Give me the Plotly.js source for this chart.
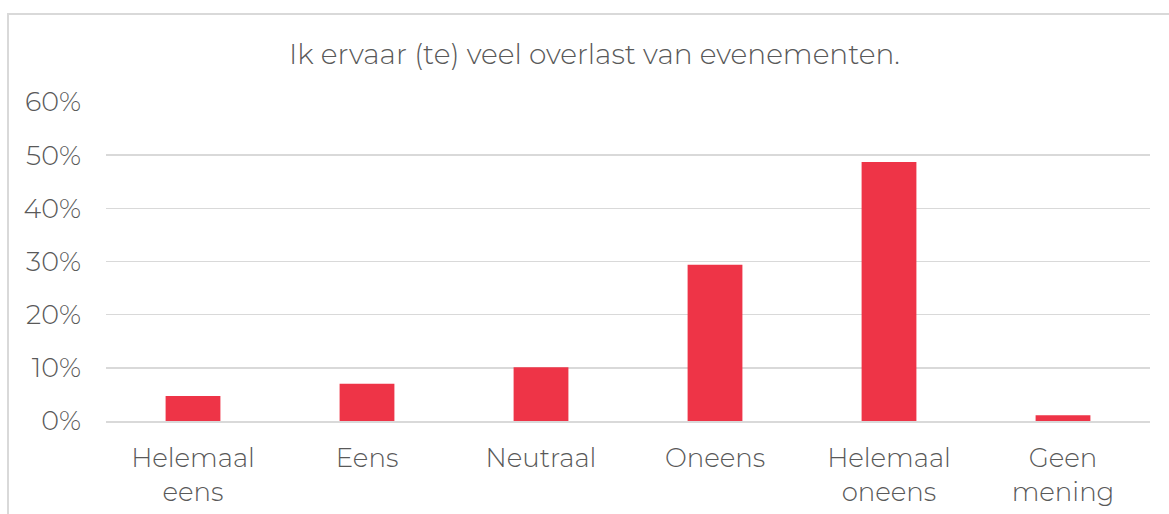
<!DOCTYPE html>
<html><head><meta charset="utf-8">
<script src="https://cdn.plot.ly/plotly-3.0.1.min.js"></script>
<style>
html,body{margin:0;padding:0;background:#fff;overflow:hidden;}
#wrap{position:relative;width:1169px;height:514px;}
#chart{position:absolute;left:0;top:0;width:1169px;height:514px;}
#frame{position:absolute;left:7px;top:13px;width:1180px;height:520px;border:2px solid #d9d9d9;box-sizing:border-box;pointer-events:none;}
</style></head>
<body><div id="wrap"><div id="chart"></div><div id="frame"></div></div>
<script>
const categories = ["Helemaal<br>eens", "Eens", "Neutraal", "Oneens", "Helemaal<br>oneens", "Geen<br>mening"];
const values = [0.047, 0.070, 0.101, 0.294, 0.487, 0.011];
const yTickValues = [0, 0.1, 0.2, 0.3, 0.4, 0.5, 0.6];
const titleText = "Ik ervaar (te) veel overlast van evenementen.";
const font = "Montserrat, 'DejaVu Sans', sans-serif";
Plotly.newPlot('chart', [{
  type: 'bar', x: categories, y: values,
  marker: {color: '#EE3447'}, hoverinfo: 'none'
}], {
  width: 1169, height: 514,
  margin: {l: 106, r: 19, t: 102, b: 93},
  paper_bgcolor: '#fff', plot_bgcolor: '#fff',
  bargap: 0.685,
  showlegend: false,
  title: {text: titleText, x: 594.5/1169, xanchor: 'center', y: 1 - 54/514, yanchor: 'middle',
          font: {family: font, size: 28, weight: 300, color: '#595959'}},
  xaxis: {showgrid: false, showline: true, linecolor: '#d9d9d9', linewidth: 2,
          ticks: '', ticklabelstandoff: 13,
          tickfont: {family: font, size: 26, weight: 300, color: '#595959'}, fixedrange: true},
  yaxis: {range: [0, 0.6], tickvals: yTickValues, tickformat: '.0%', showgrid: true,
          gridcolor: '#d9d9d9', gridwidth: 1.5, zeroline: false, showline: false, ticks: '',
          ticklabelstandoff: 24,
          tickfont: {family: font, size: 27, weight: 300, color: '#595959'}, fixedrange: true}
}, {staticPlot: true});
</script></body></html>
